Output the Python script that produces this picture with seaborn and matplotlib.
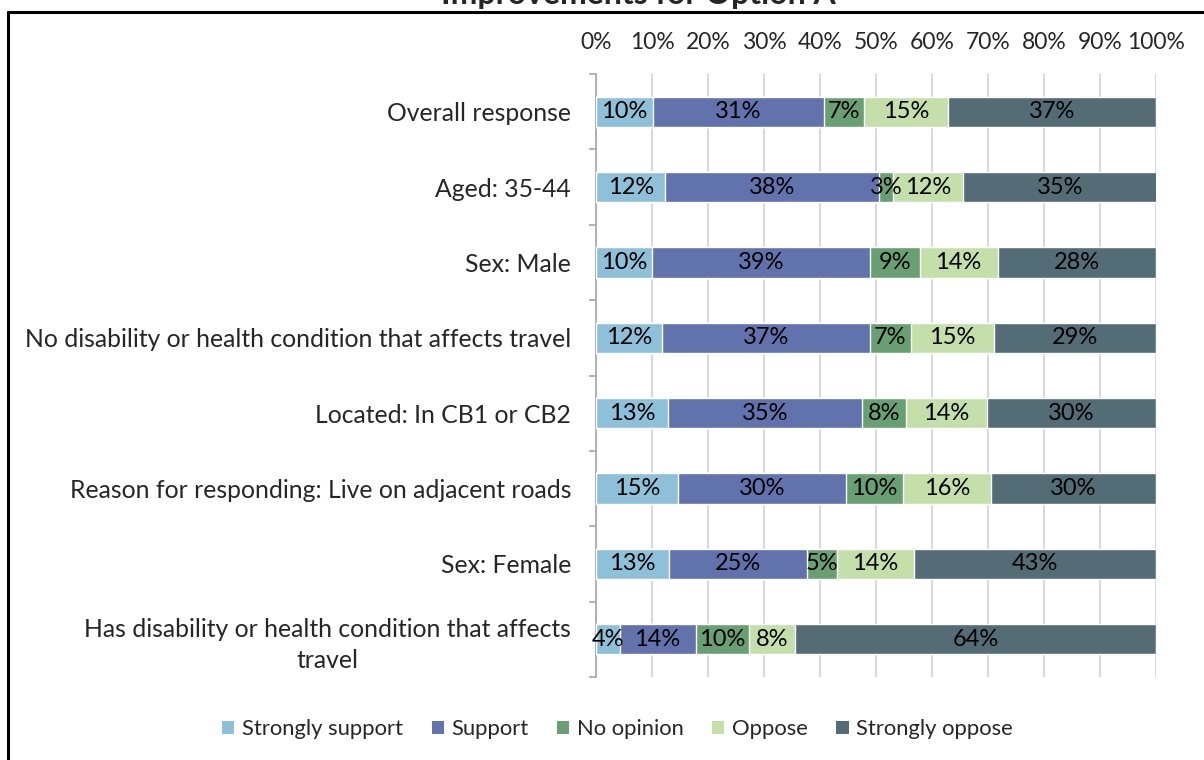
import numpy as np
import pandas as pd
import seaborn as sns
import matplotlib.pyplot as plt
from matplotlib.patches import Patch

# Datos (porcentajes)
categorias = ['Overall response', 'Aged: 35-44', 'Sex: Male',
              'No disability or health condition that affects travel',
              'Located: In CB1 or CB2',
              'Reason for responding: Live on adjacent roads',
              'Sex: Female',
              'Has disability or health condition that affects\ntravel']
respuestas = ['Strongly support', 'Support', 'No opinion', 'Oppose', 'Strongly oppose']
strongly_support = [10.1, 12.4, 10.0, 11.8, 12.9, 14.6, 13.0, 4.2]
support = [30.6, 38.1, 38.9, 37.1, 34.6, 30.0, 24.7, 13.6]
no_opinion = [7.2, 2.6, 8.9, 7.3, 7.9, 10.3, 5.4, 9.6]
oppose = [15.0, 12.4, 13.9, 14.8, 14.4, 15.6, 13.6, 8.2]
strongly_oppose = [37.1, 34.6, 28.3, 29.0, 30.2, 29.5, 43.3, 64.4]
colores = ['#8EC1D9', '#6172AD', '#69A073', '#C5DFAB', '#546C75']

sns.set_style('white')
plt.rcParams['font.family'] = ['Lato', 'DejaVu Sans']
fs = 17

df = pd.DataFrame({'categoria': categorias,
                   'Strongly support': strongly_support,
                   'Support': support,
                   'No opinion': no_opinion,
                   'Oppose': oppose,
                   'Strongly oppose': strongly_oppose})
acum = df[respuestas].cumsum(axis=1)

fig = plt.figure(figsize=(12.04, 7.6), dpi=100)
ax = fig.add_axes([596 / 1204, 1 - 677 / 760, 560 / 1204, 603 / 760])

# Barras apiladas: se dibuja la suma acumulada de atras hacia adelante
for resp, col in reversed(list(zip(respuestas, colores))):
    sns.barplot(x=acum[resp], y=df['categoria'], color=col, orient='h',
                width=0.4, saturation=1, ax=ax, zorder=3)

# Etiquetas de cada segmento
for i in range(len(categorias)):
    izq = 0
    for resp in respuestas:
        v = df.loc[i, resp]
        ax.text(izq + v / 2, i, f'{v:.0f}%', ha='center', va='center',
                fontsize=fs, color='black', zorder=4)
        izq += v

ax.set_xlim(0, 100)
ax.set_ylim(len(categorias) - 0.5, -0.5)
ax.set_xticks(np.arange(0, 101, 10))
ax.set_xticklabels([f'{t}%' for t in range(0, 101, 10)], fontsize=16.5)
ax.xaxis.tick_top()
ax.tick_params(axis='x', length=0, pad=15)
ax.grid(axis='x', color='#D9D9D9', linewidth=1.5, zorder=0)
ax.set_axisbelow(True)
ax.set_xlabel('')
ax.set_ylabel('')

ax.set_yticks(range(len(categorias)))
ax.set_yticklabels(categorias, fontsize=17.8)
for lab in ax.get_yticklabels():
    lab.set_multialignment('center')
    lab.set_linespacing(1.4)
ax.set_yticks(np.arange(-0.5, len(categorias), 1), minor=True)
ax.tick_params(axis='y', which='major', length=0, pad=18)
ax.tick_params(axis='y', which='minor', length=5, color='#A6A6A6', width=1.2,
               left=True)

for s in ['top', 'right', 'bottom']:
    ax.spines[s].set_visible(False)
ax.spines['left'].set_color('#A6A6A6')
ax.spines['left'].set_linewidth(1.2)

# Leyenda
handles = [Patch(facecolor=c, edgecolor='none', label=r) for r, c in zip(respuestas, colores)]
fig.legend(handles=handles, loc='center', bbox_to_anchor=(0.513, 1 - 729 / 760),
           ncol=5, frameon=False, fontsize=15.8, handlelength=0.55, handleheight=0.55,
           handletextpad=0.35, columnspacing=1.3)

# Titulo (cortado arriba) y marco
fig.text(638 / 1204, 1 - 4 / 760, 'Improvements for Option A', ha='center',
         va='baseline', fontsize=23, fontweight='bold')
fig.add_artist(plt.Line2D([8 / 1204, 1], [1 - 12 / 760, 1 - 12 / 760],
                          color='black', linewidth=2.2, transform=fig.transFigure))
fig.add_artist(plt.Line2D([8 / 1204, 8 / 1204], [0, 1 - 12 / 760],
                          color='black', linewidth=2.2, transform=fig.transFigure))

fig.savefig('out.png', dpi=100)
